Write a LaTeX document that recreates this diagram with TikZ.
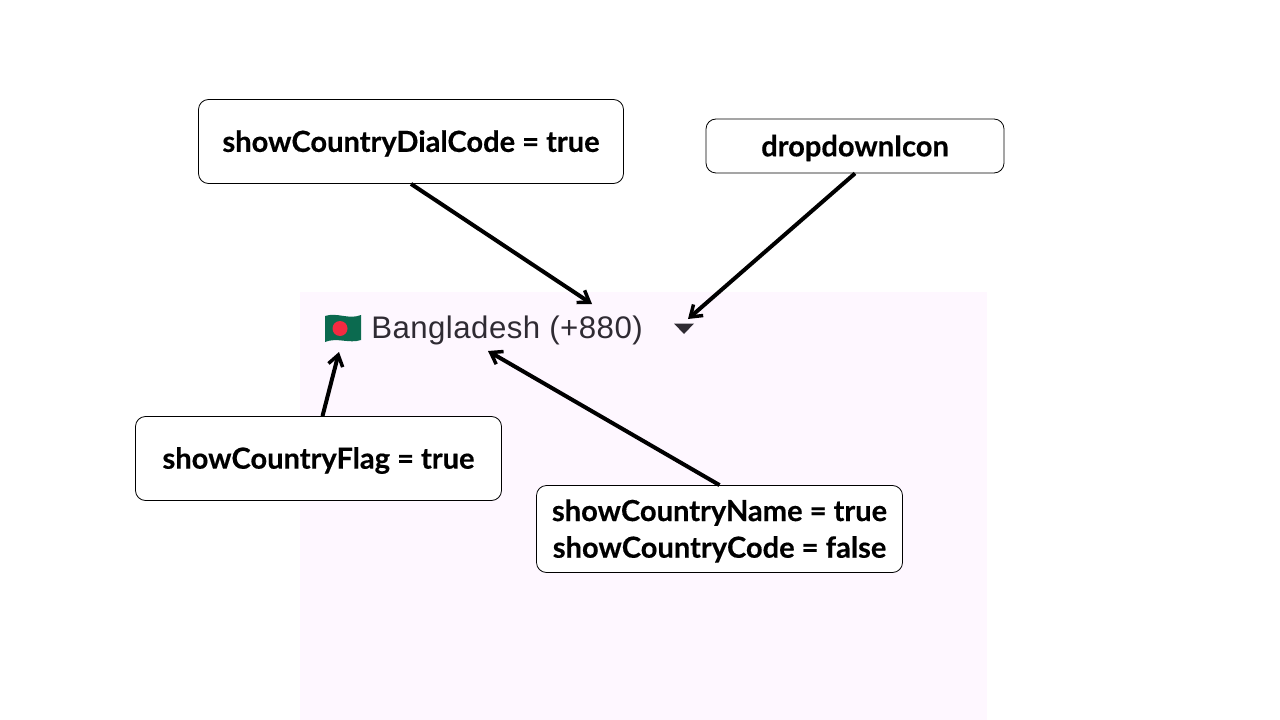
\documentclass[tikz,border=0pt]{standalone}
\usepackage{fontspec}
\setmainfont{Lato}[BoldFeatures={FakeBold=0.4}]
\newfontfamily\rob{Liberation Sans}[LetterSpace=1.5]
\usetikzlibrary{arrows.meta}
\definecolor{panel}{HTML}{FEF7FF}
\definecolor{bdgreen}{HTML}{0B6A4F}
\definecolor{bdred}{HTML}{F42A41}
\definecolor{txt}{HTML}{2F2B33}
\newcommand{\lowered}[1]{\raisebox{-1.5pt}[\height][\depth]{#1}}
\tikzset{
 px/.style={x=0.75pt,y=-0.75pt},
 lab/.style={draw=black,line width=0.6pt,rounded corners=7.5pt,fill=white,font=\bfseries\fontsize{21.8pt}{27.5pt}\selectfont,align=center,inner sep=0pt,text=black},
 arr/.style={draw=black,line width=3pt,-{Straight Barb[length=8pt,width=11pt,line width=2.6pt]}}
}
\begin{document}
\begin{tikzpicture}[px]
\useasboundingbox (0,0) rectangle (1280,720);
\fill[panel] (300,292) rectangle (987,720);
% flag
\fill[bdgreen] (325,316) .. controls (337,312) and (349,320) .. (361,315) -- (361,340) .. controls (349,344) and (337,337) .. (325,342) -- cycle;
\fill[bdred] (340,328.5) circle (7.5);
\node[anchor=west,text=txt,font=\rob\fontsize{23.4pt}{26pt}\selectfont,inner sep=0pt] (name) at (371,330) {Bangladesh (+880)};
\fill[txt] (674,323.5) -- (694,323.5) -- (684,334) -- cycle;
\coordinate (dialtip) at (592,304);
\coordinate (droptip) at (688,319);
\coordinate (flagtip) at (339,352);
\coordinate (nametip) at (488,351);
\node[lab,minimum width=425pt*0.75,minimum height=84pt*0.75] (dial) at (411,141.5) {\lowered{showCountryDialCode = true}};
\node[lab,minimum width=298pt*0.75,minimum height=54pt*0.75] (drop) at (855,146) {\lowered{dropdownIcon}};
\node[lab,minimum width=366pt*0.75,minimum height=84pt*0.75] (flag) at (318.5,458.5) {\lowered{showCountryFlag = true}};
\node[lab,minimum width=366pt*0.75,minimum height=87pt*0.75] (cname) at (719.5,529) {\lowered{showCountryName = true}\\\lowered{showCountryCode = false}};
\draw[arr] (dial.south) -- (dialtip);
\draw[arr] (drop.south) -- (droptip);
\draw[arr] (flag.north) ++(4,0) -- (flagtip);
\draw[arr] (cname.north) -- (nametip);
\end{tikzpicture}
\end{document}
